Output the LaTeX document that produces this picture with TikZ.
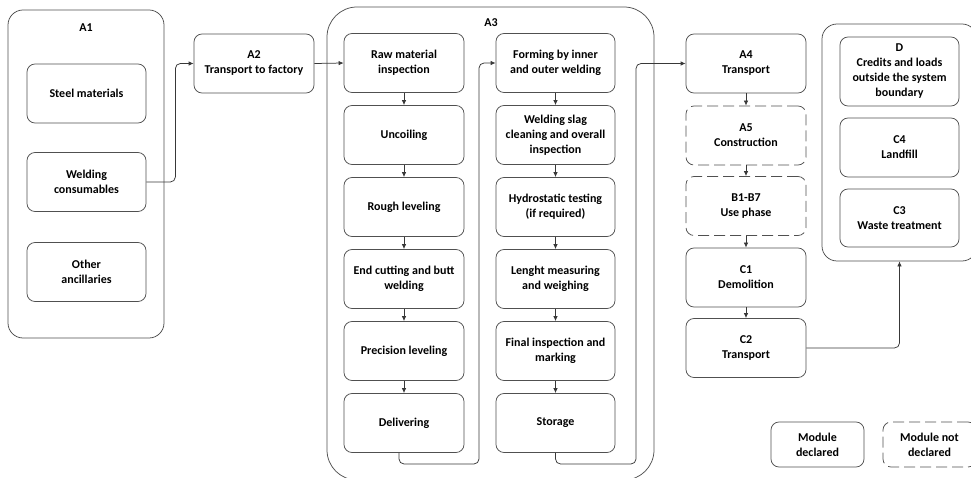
\documentclass[tikz,border=0pt]{standalone}
\usepackage{fontspec}
\setmainfont{Carlito}
\usetikzlibrary{arrows.meta}
\definecolor{edge}{HTML}{505050}
\definecolor{wire}{HTML}{383838}
\tikzset{
  box/.style={draw=edge, line width=0.75pt, rounded corners=8pt, align=center,
    inner sep=1pt, minimum width=120pt, minimum height=59pt,
    font=\fontsize{12}{15}\selectfont\bfseries},
  ndbox/.style={box, dash pattern=on 11pt off 5pt},
  frame/.style={draw=edge, line width=0.75pt, inner sep=0pt},
  conn/.style={draw=wire, line width=0.75pt, rounded corners=5pt,
    -{Latex[length=5pt,width=4.5pt]}},
  lbl/.style={font=\fontsize{12}{15}\selectfont\bfseries}
}
\begin{document}
\begin{tikzpicture}[x=1pt,y=-1pt]
\useasboundingbox (0,0) rectangle (971,478);
\clip (0,0) rectangle (971,478);
% containers
\node[frame, rounded corners=15pt, minimum width=156pt, minimum height=328pt] (A1f) at (86,174) {};
\node[lbl] (A1l) at (86,28) {A1};
\node[frame, rounded corners=30pt, minimum width=327pt, minimum height=473pt] (A3f) at (490.5,243.5) {};
\node[lbl] (A3l) at (491,23) {A3};
\node[frame, rounded corners=15pt, minimum width=155pt, minimum height=237pt] (DCf) at (899.5,142.5) {};
% A1 contents
\node[box, minimum width=119pt] (SM) at (86.5,93.5) {Steel materials};
\node[box, minimum width=119pt] (WC) at (86.5,182) {Welding\\consumables};
\node[box, minimum width=119pt] (OA) at (86.5,272) {Other\\ancillaries};
% A2
\node[box] (A2) at (254,63.5) {A2\\Transport to factory};
% A3 left column
\node[box] (RM) at (404,63)  {Raw material\\inspection};
\node[box] (UC) at (404,135) {Uncoiling};
\node[box] (RL) at (404,207) {Rough leveling};
\node[box] (EC) at (404,279) {End cutting and butt\\welding};
\node[box] (PL) at (404,351) {Precision leveling};
\node[box] (DL) at (404,423) {Delivering};
% A3 right column
\node[box, minimum width=119pt] (FO) at (555.5,63)  {Forming by inner\\and outer welding};
\node[box, minimum width=119pt] (WS) at (555.5,135) {Welding slag\\cleaning and overall\\inspection};
\node[box, minimum width=119pt] (HT) at (555.5,207) {Hydrostatic testing\\(if required)};
\node[box, minimum width=119pt] (LM) at (555.5,279) {Lenght measuring\\and weighing};
\node[box, minimum width=119pt] (FI) at (555.5,351) {Final inspection and\\marking};
\node[box, minimum width=119pt] (ST) at (555.5,423) {Storage};
% A4 column
\node[box] (A4) at (746,63.5) {A4\\Transport};
\node[ndbox] (A5) at (746,135.5) {A5\\Construction};
\node[ndbox] (B1) at (746,206) {B1-B7\\Use phase};
\node[box] (C1) at (746,277.5) {C1\\Demolition};
\node[box] (C2) at (746,348) {C2\\Transport};
% right container
\node[box, minimum width=119pt, minimum height=69pt] (D) at (899.5,71.5) {D\\Credits and loads\\outside the system\\boundary};
\node[box, minimum width=119pt] (C4) at (899.5,147.5) {C4\\Landfill};
\node[box, minimum width=119pt, minimum height=58pt] (C3) at (899.5,218) {C3\\Waste treatment};
% legend
\node[box, minimum width=93pt, minimum height=45pt] (LD) at (817.5,444.5) {Module\\declared};
\node[ndbox, minimum width=93pt, minimum height=45pt] (LN) at (929.5,444.5) {Module not\\declared};
% connectors
\draw[conn] (WC.east) -- ++(29,0) |- (A2.west);
\draw[conn] (A2.east) -- (RM.west);
\draw[conn] (RM) -- (UC);
\draw[conn] (UC) -- (RL);
\draw[conn] (RL) -- (EC);
\draw[conn] (EC) -- (PL);
\draw[conn] (PL) -- (DL);
\coordinate (b1) at (479,464);
\draw[conn] ([xshift=-5pt]DL.south) |- (b1) |- (FO.west);
\draw[conn] (FO) -- (WS);
\draw[conn] (WS) -- (HT);
\draw[conn] (HT) -- (LM);
\draw[conn] (LM) -- (FI);
\draw[conn] (FI) -- (ST);
\coordinate (b2) at (636,464);
\draw[conn] (ST.south) |- (b2) |- (A4.west);
\draw[conn] (A4) -- (A5);
\draw[conn] (A5) -- (B1);
\draw[conn] (B1) -- (C1);
\draw[conn] (C1) -- (C2);
\draw[conn] (C2.east) -| (DCf.south);
\end{tikzpicture}
\end{document}
